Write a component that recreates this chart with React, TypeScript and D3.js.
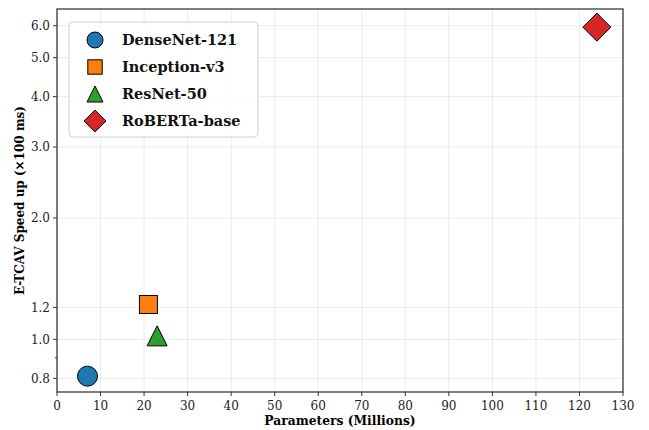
import React from 'react';
import * as d3 from 'd3';

const models = ['DenseNet-121', 'Inception-v3', 'ResNet-50', 'RoBERTa-base'];
const params = [7, 21, 23, 124];
const speedup = [0.81, 1.22, 1.02, 5.95];
const colors = ['#1f77b4', '#ff7f0e', '#2ca02c', '#d62728'];
const shapes = ['circle', 'square', 'triangle', 'diamond'];
const xTicks = d3.range(0, 131, 10);
const yTicks = [0.8, 1.0, 1.2, 2.0, 3.0, 4.0, 5.0, 6.0];
const yMinor = [0.9];

const width = 649;
const height = 430;
const margin = { top: 9, right: 26, bottom: 38, left: 57 };
const font = 'DejaVu Serif';

const Marker = ({ shape, x, y, color, s = 1 }) => {
  const st = { fill: color, stroke: '#000', strokeWidth: 1 };
  if (shape === 'circle') return <circle cx={x} cy={y} r={10 * s} {...st} />;
  if (shape === 'square') return <rect x={x - 9 * s} y={y - 9 * s} width={18 * s} height={18 * s} {...st} />;
  if (shape === 'triangle') {
    const h = 10 * s;
    return <path d={`M${x},${y - h}L${x + h},${y + h}L${x - h},${y + h}Z`} {...st} />;
  }
  const r = 14 * s;
  return <path d={`M${x},${y - r}L${x + r},${y}L${x},${y + r}L${x - r},${y}Z`} {...st} />;
};

export default function App() {
  const iw = width - margin.left - margin.right;
  const ih = height - margin.top - margin.bottom;
  const x = d3.scaleLinear().domain([0, 130]).range([0, iw]);
  const y = d3.scaleLog().domain([0.74, 6.6]).range([ih, 0]);

  return (
    <svg width={width} height={height} style={{ position: 'absolute', left: 0, top: 0 }}>
      <rect width={width} height={height} fill="#fff" />
      <g transform={`translate(${margin.left},${margin.top})`}>
        {xTicks.map((t) => (
          <line key={'gx' + t} x1={x(t)} x2={x(t)} y1={0} y2={ih} stroke="#e6e6e6" strokeWidth={0.8} />
        ))}
        {yTicks.map((t) => (
          <line key={'gy' + t} x1={0} x2={iw} y1={y(t)} y2={y(t)} stroke="#e6e6e6" strokeWidth={0.8} />
        ))}
        {xTicks.map((t) => (
          <g key={'tx' + t} transform={`translate(${x(t)},${ih})`}>
            <line y2={4} stroke="#333" />
            <text y={18} textAnchor="middle" fontFamily={font} fontSize={12} fill="#222">{t}</text>
          </g>
        ))}
        {yTicks.map((t) => (
          <g key={'ty' + t} transform={`translate(0,${y(t)})`}>
            <line x2={-4} stroke="#333" />
            <text x={-7} dy="0.35em" textAnchor="end" fontFamily={font} fontSize={12} fill="#222">{d3.format('.1f')(t)}</text>
          </g>
        ))}
        {yMinor.map((t) => (
          <line key={'my' + t} x2={-2} y1={y(t)} y2={y(t)} stroke="#333" />
        ))}
        <rect x={0} y={0} width={iw} height={ih} fill="none" stroke="#333" strokeWidth={1.25} />
        {models.map((m, i) => (
          <Marker key={m} shape={shapes[i]} x={x(params[i])} y={y(speedup[i])} color={colors[i]} />
        ))}
        <g transform="translate(12,13)">
          <rect width={189} height={115} rx={4} fill="#fff" fillOpacity={0.85} stroke="#d0d0d0" />
          {models.map((m, i) => (
            <g key={'l' + m} transform={`translate(0,${18 + i * 27})`}>
              <Marker shape={shapes[i]} x={26} y={0} color={colors[i]} s={i === 3 ? 0.78 : 0.8} />
              <text x={53} dy="0.35em" fontFamily={font} fontWeight="bold" fontSize={14.5} fill="#111">{m}</text>
            </g>
          ))}
        </g>
      </g>
      <text x={margin.left + iw / 2} y={425} textAnchor="middle" fontFamily={font} fontWeight="bold" fontSize={12.3}>Parameters (Millions)</text>
      <text transform={`translate(24,${margin.top + ih / 2}) rotate(-90)`} textAnchor="middle" fontFamily={font} fontWeight="bold" fontSize={12}>E-TCAV Speed up (×100 ms)</text>
    </svg>
  );
}
